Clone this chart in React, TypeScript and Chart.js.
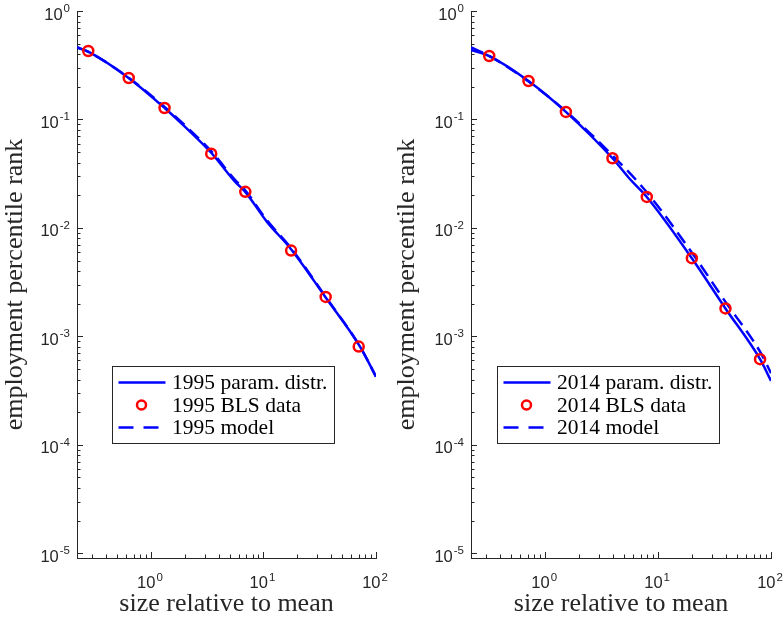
import React, { useEffect, useRef } from "react";
import { Chart, registerables } from "chart.js";

Chart.register(...registerables);

// ---------------- data ----------------
const xRange = [0.22, 100];
const yRange = [9.05e-6, 1];
const xTickExps = [0, 1, 2];
const yTickExps = [-5, -4, -3, -2, -1, 0];

const xTitle = "size relative to mean";
const yTitle = "employment percentile rank";

// 1995 panel
const labels1995 = ["1995 param. distr.", "1995 BLS data", "1995 model"];
const blsX1995 = [0.277, 0.634, 1.32, 3.43, 6.89, 17.6, 35.7, 70.2];
const blsY1995 = [0.428, 0.2413, 0.1276, 0.0484, 0.0215, 0.00618, 0.00231, 0.000805];
const paramX1995 = [0.22, 0.277, 0.628, 1.33, 2.0, 3.46, 5.58, 6.85, 10.7, 17.8, 35.2, 72.1, 100];
const paramY1995 = [0.463, 0.4215, 0.2428, 0.1268, 0.0858, 0.0488, 0.0267, 0.0216, 0.01143, 0.00627, 0.00233, 0.000805, 0.000426];
const modelX1995 = [0.22, 0.277, 0.628, 1.33, 2.0, 3.46, 5.58, 6.85, 10.7, 17.8, 35.2, 72.1, 100];
const modelY1995 = [0.46, 0.42, 0.244, 0.13, 0.0885, 0.0505, 0.0278, 0.0224, 0.0118, 0.0064, 0.00236, 0.000805, 0.000425];

// 2014 panel
const labels2014 = ["2014 param. distr.", "2014 BLS data", "2014 model"];
const blsX2014 = [0.319, 0.711, 1.524, 3.94, 7.94, 19.9, 39.5, 80];
const blsY2014 = [0.3847, 0.2264, 0.1173, 0.0439, 0.0193, 0.00526, 0.00181, 0.000616];
const paramX2014 = [0.22, 0.319, 0.711, 1.524, 3.94, 5.54, 7.94, 19.9, 39.5, 80, 100];
const paramY2014 = [0.437, 0.384, 0.2264, 0.1173, 0.0439, 0.0287, 0.0193, 0.00526, 0.00181, 0.000616, 0.000389];
const modelX2014 = [0.22, 0.319, 0.711, 1.524, 3.94, 7.94, 19.9, 39.5, 80, 100];
const modelY2014 = [0.461, 0.386, 0.224, 0.119, 0.0468, 0.0213, 0.00592, 0.00208, 0.000722, 0.000458];

// ---------------- styles ----------------
const AXIS_COLOR = "#262626";
const BLUE = "#0000ff";
const RED = "#ff0000";
const SANS = '"Liberation Sans", Arial, Helvetica, sans-serif';
const SERIF = '"Liberation Serif", "Times New Roman", serif';
const CANVAS_H = 620;
const TICK_FONT = 16.5;
const EXP_FONT = 11.5;

const toPoints = (xs: number[], ys: number[]) => xs.map((x, i) => ({ x, y: ys[i] }));

function drawPow(ctx: CanvasRenderingContext2D, exp: number, x: number, baseline: number, align: "right" | "center") {
  const base = "10";
  const e = String(exp);
  ctx.font = `${TICK_FONT}px ${SANS}`;
  const wb = ctx.measureText(base).width;
  ctx.font = `${EXP_FONT}px ${SANS}`;
  const we = ctx.measureText(e).width;
  const total = wb + 1 + we;
  const x0 = align === "right" ? x - total : x - total / 2;
  ctx.textAlign = "left";
  ctx.textBaseline = "alphabetic";
  ctx.fillStyle = AXIS_COLOR;
  ctx.font = `${TICK_FONT}px ${SANS}`;
  ctx.fillText(base, x0, baseline);
  ctx.font = `${EXP_FONT}px ${SANS}`;
  ctx.fillText(e, x0 + wb + 1, baseline - 7.5);
}

const matlabAxes = {
  id: "matlabAxes",
  afterDraw(chart: any, _args: any, opts: any) {
    const ctx: CanvasRenderingContext2D = chart.ctx;
    const xs = chart.scales.x;
    const ys = chart.scales.y;
    const { left, top, bottom } = chart.chartArea;
    ctx.save();
    ctx.strokeStyle = AXIS_COLOR;
    ctx.lineWidth = 1;
    // y ticks (inward)
    for (let e = -6; e <= 0; e++) {
      for (let m = 1; m <= 9; m++) {
        const v = m * Math.pow(10, e);
        if (v < yRange[0] || v > yRange[1] * 1.0001) continue;
        const py = Math.round(ys.getPixelForValue(v)) + 0.5;
        const len = m === 1 ? 6 : 3.5;
        ctx.beginPath();
        ctx.moveTo(left, py);
        ctx.lineTo(left + len, py);
        ctx.stroke();
      }
    }
    // x ticks (inward)
    for (let e = -1; e <= 2; e++) {
      for (let m = 1; m <= 9; m++) {
        const v = m * Math.pow(10, e);
        if (v < xRange[0] || v > xRange[1] * 1.0001) continue;
        const px = Math.round(xs.getPixelForValue(v)) + 0.5;
        const len = m === 1 ? 6 : 3.5;
        ctx.beginPath();
        ctx.moveTo(px, bottom);
        ctx.lineTo(px, bottom - len);
        ctx.stroke();
      }
    }
    // tick labels
    yTickExps.forEach((e) => {
      const py = ys.getPixelForValue(Math.pow(10, e));
      drawPow(ctx, e, left - 7, py + 8.5, "right");
    });
    xTickExps.forEach((e) => {
      const px = xs.getPixelForValue(Math.pow(10, e));
      drawPow(ctx, e, px - 1, bottom + 30, "center");
    });

    // legend
    const ds = chart.data.datasets;
    const order: number[] = opts.order;
    const bx = Math.round(left + opts.left) + 0.5;
    const by = Math.round(top + opts.top) + 0.5;
    const bw = opts.width;
    const bh = opts.height;
    ctx.fillStyle = "#ffffff";
    ctx.fillRect(bx, by, bw, bh);
    ctx.strokeStyle = AXIS_COLOR;
    ctx.lineWidth = 1;
    ctx.strokeRect(bx, by, bw, bh);
    const rows = [16, 38.5, 61];
    order.forEach((idx, r) => {
      const d = ds[idx];
      const ry = by + rows[r];
      const sx0 = bx + 6;
      const sx1 = bx + 53;
      if (d.showLine) {
        ctx.save();
        ctx.strokeStyle = d.borderColor;
        ctx.lineWidth = d.borderWidth;
        if (d.borderDash && d.borderDash.length) {
          ctx.setLineDash([15, 10]);
          ctx.beginPath();
          ctx.moveTo(sx0, ry);
          ctx.lineTo(sx1 - 5, ry);
          ctx.stroke();
        } else {
          ctx.beginPath();
          ctx.moveTo(sx0, ry);
          ctx.lineTo(sx1, ry);
          ctx.stroke();
        }
        ctx.restore();
      } else {
        ctx.save();
        ctx.strokeStyle = d.pointBorderColor;
        ctx.lineWidth = d.pointBorderWidth;
        ctx.beginPath();
        ctx.arc((sx0 + sx1) / 2 - 0.5, ry, d.pointRadius - 0.5, 0, Math.PI * 2);
        ctx.stroke();
        ctx.restore();
      }
      ctx.fillStyle = "#000000";
      ctx.font = `21.5px ${SERIF}`;
      ctx.textAlign = "left";
      ctx.textBaseline = "middle";
      ctx.fillText(d.label, bx + 59.5, ry + 1);
    });
    ctx.restore();
  },
};

type PanelProps = {
  canvasLeft: number;
  canvasWidth: number;
  yAxisWidth: number;
  padRight: number;
  legendLeft: number;
  labels: string[];
  paramX: number[];
  paramY: number[];
  blsX: number[];
  blsY: number[];
  modelX: number[];
  modelY: number[];
};

function Panel(p: PanelProps) {
  const ref = useRef<HTMLCanvasElement>(null);
  useEffect(() => {
    if (!ref.current) return;
    const chart = new Chart(ref.current, {
      type: "scatter",
      data: {
        datasets: [
          {
            label: p.labels[1],
            data: toPoints(p.blsX, p.blsY),
            showLine: false,
            pointStyle: "circle",
            pointRadius: 5,
            pointHoverRadius: 5,
            pointBorderWidth: 2.5,
            pointBorderColor: RED,
            pointBackgroundColor: "rgba(0,0,0,0)",
            borderColor: RED,
            backgroundColor: "rgba(0,0,0,0)",
          },
          {
            label: p.labels[0],
            data: toPoints(p.paramX, p.paramY),
            showLine: true,
            borderColor: BLUE,
            borderWidth: 2.5,
            pointRadius: 0,
            cubicInterpolationMode: "monotone",
          },
          {
            label: p.labels[2],
            data: toPoints(p.modelX, p.modelY),
            showLine: true,
            borderColor: BLUE,
            borderWidth: 2.5,
            borderDash: [13, 7],
            pointRadius: 0,
            cubicInterpolationMode: "monotone",
          },
        ] as any,
      },
      options: {
        animation: false,
        responsive: false,
        devicePixelRatio: 1,
        events: [],
        layout: { padding: { top: 11, right: p.padRight, left: 0, bottom: 0 } },
        plugins: {
          legend: { display: false },
          tooltip: { enabled: false },
          matlabAxes: { order: [1, 0, 2], left: p.legendLeft, top: 355, width: 222, height: 77 },
        } as any,
        scales: {
          x: {
            type: "logarithmic",
            position: "bottom",
            min: xRange[0],
            max: xRange[1],
            grid: { drawOnChartArea: false, drawTicks: false },
            border: { display: true, color: AXIS_COLOR, width: 1 },
            ticks: { display: false },
            title: {
              display: true,
              text: xTitle,
              color: AXIS_COLOR,
              font: { family: SERIF, size: 26 },
              padding: { top: 0, bottom: 0 },
            },
            afterFit: (s: any) => {
              s.height = 62;
            },
          },
          y: {
            type: "logarithmic",
            position: "left",
            min: yRange[0],
            max: yRange[1],
            grid: { drawOnChartArea: false, drawTicks: false },
            border: { display: true, color: AXIS_COLOR, width: 1 },
            ticks: { display: false },
            title: {
              display: true,
              text: yTitle,
              color: AXIS_COLOR,
              font: { family: SERIF, size: 26 },
              padding: { top: 0, bottom: 0 },
            },
            afterFit: (s: any) => {
              s.width = p.yAxisWidth;
            },
          },
        } as any,
      },
      plugins: [matlabAxes],
    } as any);
    return () => chart.destroy();
  }, []);
  return (
    <canvas
      ref={ref}
      width={p.canvasWidth}
      height={CANVAS_H}
      style={{ position: "absolute", left: p.canvasLeft, top: 0, width: p.canvasWidth, height: CANVAS_H }}
    />
  );
}

export default function App() {
  return (
    <div style={{ position: "fixed", left: 0, top: 0, width: 783, height: CANVAS_H, background: "#ffffff" }}>
      <Panel
        canvasLeft={0}
        canvasWidth={392}
        yAxisWidth={77}
        padRight={16}
        legendLeft={35}
        labels={labels1995}
        paramX={paramX1995}
        paramY={paramY1995}
        blsX={blsX1995}
        blsY={blsY1995}
        modelX={modelX1995}
        modelY={modelY1995}
      />
      <Panel
        canvasLeft={392}
        canvasWidth={391}
        yAxisWidth={79}
        padRight={12}
        legendLeft={26}
        labels={labels2014}
        paramX={paramX2014}
        paramY={paramY2014}
        blsX={blsX2014}
        blsY={blsY2014}
        modelX={modelX2014}
        modelY={modelY2014}
      />
    </div>
  );
}
